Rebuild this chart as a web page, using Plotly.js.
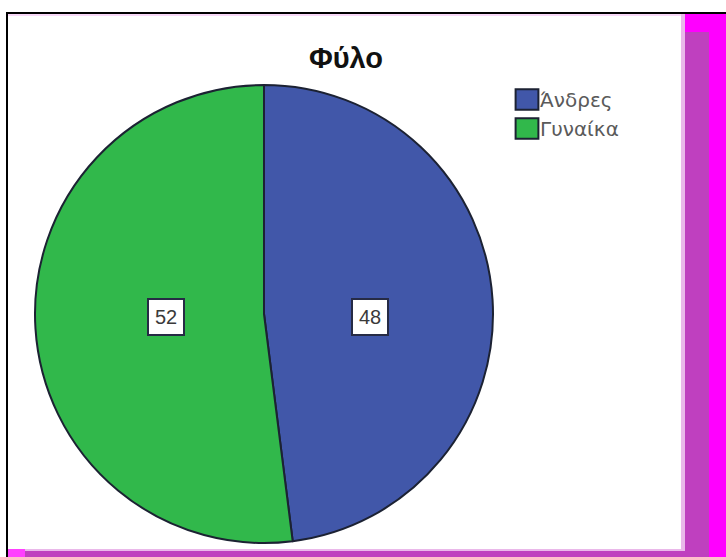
<!DOCTYPE html>
<html>
<head>
<meta charset="utf-8">
<script src="https://cdn.plot.ly/plotly-3.0.1.min.js"></script>
<style>html,body{margin:0;padding:0;background:#fff;}#chart{width:726px;height:557px;}</style>
</head>
<body>
<div id="chart"></div>
<script>
// Data
const categories = ['Άνδρες', 'Γυναίκα'];
const values = [48, 52];
const sliceColors = ['#4157a9', '#31b84b'];
const chartTitle = 'Φύλο';

const W = 726, H = 557;
const X = px => px / W;
const Y = py => 1 - py / H;

// pie placement (pixels)
const pieLeft = 35, pieRight = 493, pieTop = 85, pieBottom = 543;
const domX = [X(pieLeft), X(pieRight)];
const domY = [Y(pieBottom), Y(pieTop)];

// label positions derived from data (horizontal offset from mid-angle of each slice)
const total = values.reduce((a, b) => a + b, 0);
const cx = (pieLeft + pieRight) / 2, cy = (pieTop + pieBottom) / 2;
const r = (pieRight - pieLeft) / 2;
const labelR = 0.445 * r;
let cum = 0;
const annotations = values.map(v => {
  const mid = (cum + v / 2) / total * 2 * Math.PI;
  cum += v;
  return {
    xref: 'paper', yref: 'paper',
    x: X(cx + 4 + labelR * Math.sin(mid)),
    y: Y(cy + 3),
    text: String(v), showarrow: false,
    font: {family: 'Liberation Sans, Arial, sans-serif', size: 20, color: '#3a3a3a'},
    bgcolor: '#ffffff', bordercolor: '#262b45', borderwidth: 2, borderpad: 6,
    xanchor: 'center', yanchor: 'middle'
  };
});

const rect = (x0, y0, x1, y1, color) => ({
  type: 'rect', xref: 'paper', yref: 'paper', layer: 'below',
  x0: X(x0), x1: X(x1), y0: Y(y1), y1: Y(y0),
  fillcolor: color, line: {width: 0}
});

const shapes = [
  rect(8, 14, 681, 16, '#f8d8f8'),
  rect(681, 14, 685, 551, '#eab8ea'),
  rect(8, 549, 685, 551, '#eab8ea'),
  rect(685, 14, 726, 557, '#ff00ff'),
  rect(685, 32, 709, 557, '#bf40bf'),
  rect(25, 551, 709, 557, '#bf40bf'),
  rect(8, 549, 25, 557, '#ff40ff'),
  rect(6, 12, 726, 14, '#000000'),
  rect(6, 12, 8, 557, '#000000')
];

const trace = {
  type: 'pie',
  labels: categories,
  values: values,
  sort: false,
  direction: 'clockwise',
  rotation: 0,
  textinfo: 'none',
  hoverinfo: 'label+value',
  marker: {colors: sliceColors, line: {color: '#1c2233', width: 2}},
  domain: {x: domX, y: domY}
};

const layout = {
  width: W, height: H,
  margin: {l: 0, r: 0, t: 0, b: 0},
  paper_bgcolor: '#ffffff',
  title: {
    text: '<b>' + chartTitle + '</b>',
    font: {family: 'Liberation Sans, Arial, sans-serif', size: 29, color: '#111'},
    x: X(346), xanchor: 'center', y: Y(58), yanchor: 'middle'
  },
  showlegend: true,
  legend: {
    x: X(500), y: Y(80), xanchor: 'left', yanchor: 'top',
    font: {family: 'DejaVu Sans, sans-serif', size: 20, color: '#5a5a5a'},
    bgcolor: 'rgba(0,0,0,0)', itemwidth: 30
  },
  shapes: shapes,
  annotations: annotations
};

Plotly.newPlot('chart', [trace], layout, {displayModeBar: false, staticPlot: true}).then(gd => {
  // enlarge the legend swatches to the reference's size
  gd.querySelectorAll('.legendpoints path.legendpie').forEach(p => {
    p.setAttribute('transform', 'translate(27,0) scale(1.9,1.7)');
    p.style.vectorEffect = 'non-scaling-stroke';
  });
});
</script>
</body>
</html>
